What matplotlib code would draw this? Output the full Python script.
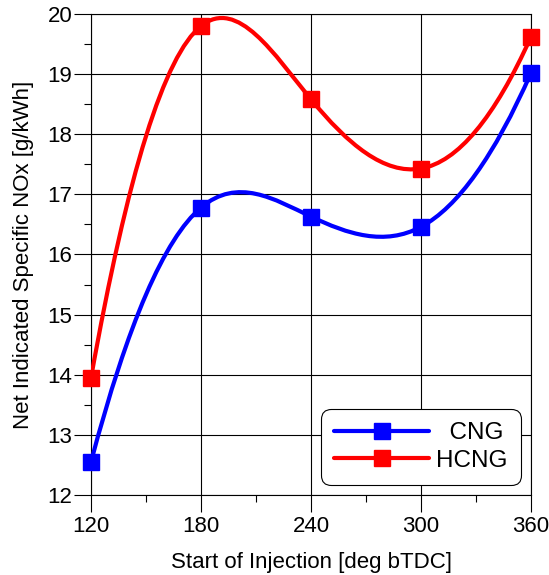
import numpy as np
import matplotlib
matplotlib.use("Agg")
import matplotlib.pyplot as plt
from matplotlib.path import Path
from matplotlib.patches import PathPatch
from matplotlib.lines import Line2D
from matplotlib.ticker import MultipleLocator

plt.rcParams['font.family'] = ['Liberation Sans', 'DejaVu Sans']

soi = [120, 180, 240, 300, 360]
nox_cng = [12.55, 16.78, 16.63, 16.46, 19.02]
nox_hcng = [13.95, 19.80, 18.58, 17.43, 19.62]
series_names = ['CNG', 'HCNG']
series_colors = ['#0000ff', '#ff0000']


def spline_path(x, y):
    # cubic spline with parabolic run-out ends, written as Bezier segments
    x = np.asarray(x, float)
    y = np.asarray(y, float)
    n = len(x)
    h = np.diff(x)
    A = np.zeros((n, n))
    b = np.zeros(n)
    A[0, 0], A[0, 1] = 1, -1
    A[-1, -1], A[-1, -2] = 1, -1
    for i in range(1, n - 1):
        A[i, i - 1] = h[i - 1]
        A[i, i] = 2 * (h[i - 1] + h[i])
        A[i, i + 1] = h[i]
        b[i] = 6 * ((y[i + 1] - y[i]) / h[i] - (y[i] - y[i - 1]) / h[i - 1])
    M = np.linalg.solve(A, b)

    verts = [(x[0], y[0])]
    codes = [Path.MOVETO]
    for i in range(n - 1):
        d = (y[i + 1] - y[i]) / h[i]
        s0 = d - h[i] * (2 * M[i] + M[i + 1]) / 6
        s1 = d + h[i] * (M[i] + 2 * M[i + 1]) / 6
        verts += [(x[i] + h[i] / 3, y[i] + s0 * h[i] / 3),
                  (x[i + 1] - h[i] / 3, y[i + 1] - s1 * h[i] / 3),
                  (x[i + 1], y[i + 1])]
        codes += [Path.CURVE4] * 3
    return Path(verts, codes)


fig = plt.figure(figsize=(5.49, 5.75), dpi=100)
ax = fig.add_axes([0.1658, 0.1391, 0.8014, 0.8366])

ax.set_xlim(120, 360)
ax.set_ylim(12, 20)
ax.xaxis.set_major_locator(MultipleLocator(60))
ax.xaxis.set_minor_locator(MultipleLocator(30))
ax.yaxis.set_major_locator(MultipleLocator(1))
ax.yaxis.set_minor_locator(MultipleLocator(0.5))
ax.grid(True, which='major', color='black', lw=0.8)
ax.set_axisbelow(True)
ax.tick_params(which='major', length=12, width=0.8, labelsize=16)
ax.tick_params(axis='x', which='major', pad=3)
ax.tick_params(axis='y', which='major', pad=1.5)
ax.tick_params(which='minor', length=5, width=0.8)
for s in ax.spines.values():
    s.set_linewidth(0.8)

handles = []
for ys, name, col in zip([nox_cng, nox_hcng], series_names, series_colors):
    ax.add_patch(PathPatch(spline_path(soi, ys), fill=False, edgecolor=col,
                           lw=3, capstyle='round', zorder=3))
    ax.plot(soi, ys, ls='none', marker='s', ms=11, color=col, zorder=4,
            clip_on=False)
    handles.append(Line2D([], [], color=col, lw=3, marker='s', ms=11,
                          solid_capstyle='round'))

leg = ax.legend(handles, ['\u2007CNG', 'HCNG'], loc='lower right',
                bbox_to_anchor=(0.977, 0.021), borderaxespad=0,
                fontsize=17.5, handlelength=3.9, handletextpad=0.29,
                labelspacing=0.22, borderpad=0.55, fancybox=True,
                framealpha=1, edgecolor='black')
leg.get_frame().set_linewidth(0.8)
leg.get_frame().set_boxstyle('round,pad=0,rounding_size=0.4')

ax.set_xlabel('Start of Injection [deg bTDC]', fontsize=16, labelpad=11)
ax.set_ylabel('Net Indicated Specific NOx [g/kWh]', fontsize=16, labelpad=10)

fig.savefig('out.png', dpi=100)
